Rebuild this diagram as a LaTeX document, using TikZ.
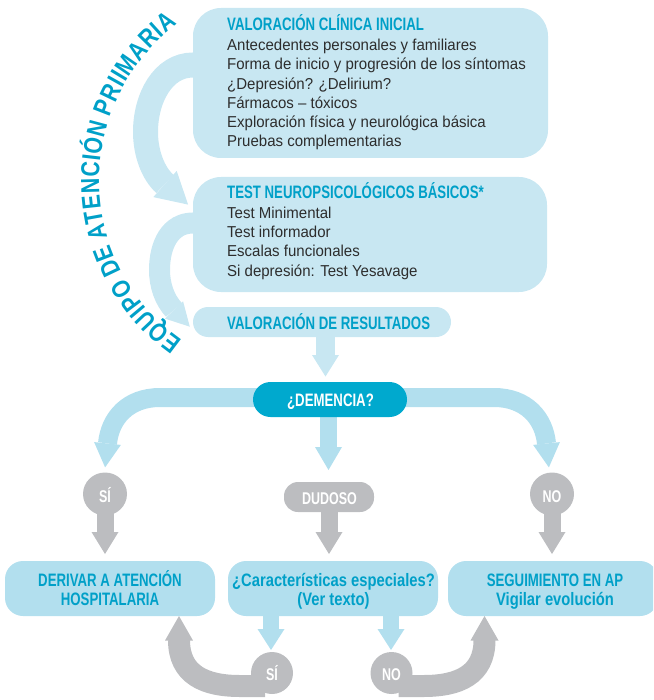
\documentclass[tikz,border=0pt]{standalone}
\usepackage{fontspec}
\usetikzlibrary{calc,shapes.geometric}
\newfontfamily\bodyf[FakeStretch=0.95]{Liberation Sans}
\newfontfamily\capsf[FakeStretch=0.735]{Liberation Sans Bold}
\newfontfamily\mixf[FakeStretch=0.82]{Liberation Sans Bold}
\definecolor{boxtop}{RGB}{200,231,242}
\definecolor{boxbot}{RGB}{178,223,238}
\definecolor{demc}{RGB}{0,169,206}
\definecolor{titc}{RGB}{0,160,200}
\definecolor{bodyc}{RGB}{45,45,45}
\definecolor{grayc}{RGB}{188,189,192}
\pgfdeclarelayer{bg}
\pgfsetlayers{bg,main}
\newcommand\fatdown[6]{%
  \fill[#1] ($(#2)+(-#4,0)$) rectangle ($(#3)+(#4,-#6+0.5)$);
  \fill[#1] ($(#3)+(-#5,-#6)$) -- ($(#3)+(#5,-#6)$) -- (#3) -- cycle;}
\begin{document}
\begin{tikzpicture}[x=1pt,y=-1pt,
  box/.style={draw=none, inner sep=0pt, outer sep=0pt, shape=rectangle},
  ttl/.style={font=\capsf\fontsize{18}{19}\selectfont, text=titc, inner sep=0pt, anchor=base west},
  bod/.style={font=\bodyf\fontsize{15.8}{19}\selectfont, text=bodyc, inner sep=0pt, anchor=base west},
  capc/.style={font=\capsf\fontsize{18}{19}\selectfont, text=titc, inner sep=0pt, anchor=base},
  mixc/.style={font=\mixf\fontsize{18}{19}\selectfont, text=titc, inner sep=0pt, anchor=base},
  wlab/.style={font=\capsf\fontsize{17}{19}\selectfont, text=white, inner sep=0pt, anchor=base},
  arcl/.style={font=\mixf\fontsize{26}{26}\selectfont, text=titc, inner sep=0pt, anchor=base},
  band/.style={line width=#1, line cap=butt},
]
\useasboundingbox (0,0) rectangle (653,700);
\clip (0,0) rectangle (653,700);

% boxes
\node[box, fill=boxtop, rounded corners=28pt, minimum width=355pt, minimum height=150pt] (b1) at (370.5,83) {};
\node[box, fill=boxtop, rounded corners=28pt, minimum width=354pt, minimum height=115pt] (b2) at (370,234.5) {};
\node[box, fill=boxtop, rounded corners=15pt, minimum width=258pt, minimum height=30pt] (b3) at (322,322) {};
\node[box, fill=demc, rounded corners=17.5pt, minimum width=154pt, minimum height=35pt] (dem) at (330,399.5) {};
\node[box, fill=grayc, rounded corners=14pt, minimum width=90pt, minimum height=30pt] (dud) at (329,497) {};
\node[box, fill=grayc, ellipse, minimum width=44pt, minimum height=43pt] (si1) at (105,494) {};
\node[box, fill=grayc, ellipse, minimum width=44pt, minimum height=43pt] (no1) at (552,494) {};
\node[box, fill=boxbot, rounded corners=18pt, minimum width=210pt, minimum height=55pt] (bd) at (110,588.5) {};
\node[box, fill=boxbot, rounded corners=18pt, minimum width=210pt, minimum height=55pt] (bc) at (333,588.5) {};
\node[box, fill=boxbot, rounded corners=18pt, minimum width=210pt, minimum height=55pt] (bs) at (553,588.5) {};
\node[box, fill=grayc, circle, minimum size=42pt] (si2) at (272,673) {};
\node[box, fill=grayc, circle, minimum size=42pt] (no2) at (391.5,673) {};

\begin{pgfonlayer}{bg}
% top curved arrows
\draw[boxtop, band=25pt] (205,65) -- (193,65) .. controls (163,65) and (145.5,98) .. (145.5,132) .. controls (145.5,153) and (153,173.3) .. (165,184);
\fill[boxtop] (153.3,197.1) -- (176.7,170.9) -- (188.1,204.6) -- cycle;
\draw[boxtop, band=21pt] (205,223) -- (193,223) .. controls (170,223) and (159.5,245) .. (159.5,270) .. controls (159.5,285) and (164.4,299.8) .. (174,310);
\fill[boxtop] (164.9,318.6) -- (183.1,301.4) -- (189.8,326.7) -- cycle;
% res -> dem
\coordinate (t0) at (325.5,376.5);
\coordinate (s0) at (b3.south -| t0);
\fatdown{boxtop}{s0}{t0}{9.5}{13.5}{21.5}
% dem branches
\coordinate (dl) at (330,397.5);
\draw[boxbot, band=19pt] (dl) -- (160,397.5) .. controls (128,397.5) and (110,418) .. (107.5,443.5);
\fill[boxbot] (94.1,442.1) -- (120.9,444.9) -- (105.1,467.4) -- cycle;
\draw[boxbot, band=19pt] (dl) -- (494,397.5) .. controls (526,397.5) and (544,418) .. (546.5,443.5);
\fill[boxbot] (559.9,442.1) -- (533.1,444.9) -- (548.9,467.4) -- cycle;
\coordinate (t1) at (328.5,470);
\coordinate (s1) at (dem.center -| t1);
\fatdown{boxbot}{s1}{t1}{8.5}{13.5}{23}
% gray downs
\coordinate (t2) at (105,554);
\fatdown{grayc}{si1.center}{t2}{8.5}{13.5}{22}
\coordinate (t3) at (329,554);
\fatdown{grayc}{dud.center}{t3}{8.5}{13.5}{22}
\coordinate (t4) at (552,554);
\fatdown{grayc}{no1.center}{t4}{8.5}{13.5}{22}
% bottom blue
\coordinate (t5) at (271,650);
\coordinate (s5) at (bc.south -| t5);
\fatdown{boxbot}{s5}{t5}{8}{13.5}{21}
\coordinate (t6) at (391,650);
\coordinate (s6) at (bc.south -| t6);
\fatdown{boxbot}{s6}{t6}{8}{13.5}{21}
% gray curves
\draw[grayc, band=22pt] (265,686) -- (240,686) .. controls (205,686) and (179,675) .. (179,640);
\fill[grayc] (165,640.5) -- (193,640.5) -- (179,616) -- cycle;
\draw[grayc, band=22pt] (398.5,686) -- (423.5,686) .. controls (458.5,686) and (484.5,675) .. (484.5,640);
\fill[grayc] (470.5,640.5) -- (498.5,640.5) -- (484.5,616) -- cycle;
\end{pgfonlayer}

% curved label, letter by letter on a circle (centre 294,181; radius 195)
\coordinate (arcc) at (294,181);
\foreach \ch/\w/\pre [count=\i, remember=\cum as \cprev (initially 0)] in
  {E/667/0, Q/778/0, U/722/0, I/278/0, P/667/0, O/778/0,
   D/722/278, E/667/0,
   A/722/278, T/611/0, E/667/0, N/722/0, C/722/0, I/278/0, Ó/778/0, N/722/0,
   P/667/278, R/722/0, I/278/0, I/278/0, M/833/0, A/722/0, R/722/0, I/278/0, A/722/0} {
  \pgfmathsetmacro\midp{\cprev + \pre*0.02132 + \w*0.02132/2}
  \pgfmathsetmacro\cum{\cprev + \pre*0.02132 + \w*0.02132 + 0.67}
  \pgfmathsetmacro\ang{125 + \midp*0.29382}
  \pgfmathsetmacro\rot{270-\ang}
  \node[arcl, rotate=\rot] (eq\i) at ($(arcc)+(\ang:195)$) {\ch};
}

% texts box 1
\node[ttl] (b1t) at (227,30.7) {VALORACIÓN CLÍNICA INICIAL};
\node[bod] (b1a) at (227,50.5) {Antecedentes personales y familiares};
\node[bod] (b1b) at (227,69.8) {Forma de inicio y progresión de los síntomas};
\node[bod] (b1c) at (227,89.1) {¿Depresión? ¿Delirium?};
\node[bod] (b1d) at (227,108.4) {Fármacos – tóxicos};
\node[bod] (b1e) at (227,127.7) {Exploración física y neurológica básica};
\node[bod] (b1f) at (227,147) {Pruebas complementarias};
% box 2
\node[ttl] (b2t) at (227,199) {TEST NEUROPSICOLÓGICOS BÁSICOS*};
\node[bod] (b2a) at (227,219) {Test Minimental};
\node[bod] (b2b) at (227,238) {Test informador};
\node[bod] (b2c) at (227,257) {Escalas funcionales};
\node[bod] (b2d) at (227,276) {Si depresión: Test Yesavage};
% box 3
\node[ttl] (b3t) at (227,329.3) {VALORACIÓN DE RESULTADOS};
% decision
\node[wlab, font=\capsf\fontsize{18}{19}\selectfont] (demt) at (330.5,406.5) {¿DEMENCIA?};
\node[wlab] (dudt) at (329.5,504) {DUDOSO};
\node[wlab] (si1t) at (105,502) {SÍ};
\node[wlab] (no1t) at (552,502) {NO};
\node[wlab] (si2t) at (272,680) {SÍ};
\node[wlab] (no2t) at (391.5,680) {NO};
% bottom boxes
\node[capc] (bdt1) at (110,586) {DERIVAR A ATENCIÓN};
\node[capc] (bdt2) at (110,605) {HOSPITALARIA};
\node[mixc] (bct1) at (333.5,586) {¿Características especiales?};
\node[mixc] (bct2) at (333.5,605) {(Ver texto)};
\node[capc] (bst1) at (555,586) {SEGUIMIENTO EN AP};
\node[mixc] (bst2) at (555,605) {Vigilar evolución};
\end{tikzpicture}
\end{document}
